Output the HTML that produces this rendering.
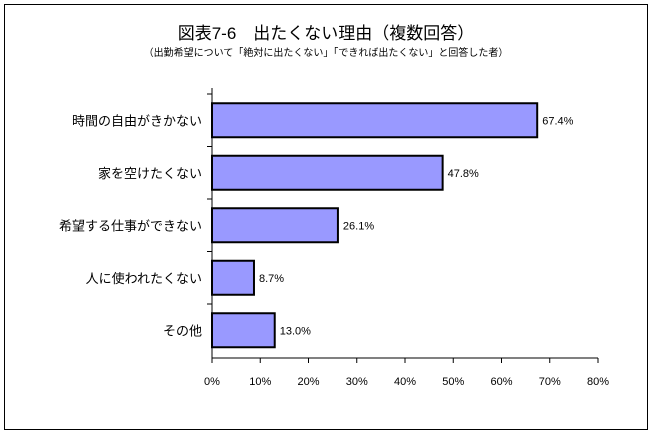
<!DOCTYPE html>
<html><head><meta charset="utf-8"><style>
body{margin:0;background:#fff;}
svg text{font-family:"Liberation Sans","Noto Sans CJK JP",sans-serif;fill:#000;}
</style></head><body>
<svg width="652" height="436">
<rect x="4.5" y="4.5" width="643" height="425" fill="#fff" stroke="#000"/>
<text x="326" y="39" font-size="17" text-anchor="middle">図表7-6　出たくない理由（複数回答）</text>
<text x="326" y="56" font-size="10" text-anchor="middle">（出勤希望について「絶対に出たくない」「できれば出たくない」と回答した者）</text>
<g id="plot"></g>
</svg>
<script>
const categories=["時間の自由がきかない","家を空けたくない","希望する仕事ができない","人に使われたくない","その他"];
const values=[67.4,47.8,26.1,8.7,13.0];
const valueLabels=["67.4%","47.8%","26.1%","8.7%","13.0%"];
const ticks=[0,10,20,30,40,50,60,70,80];
const NS="http://www.w3.org/2000/svg";
const g=document.getElementById('plot');
const x0=212,x1=598,yTop=94,yBot=358;
const xs=v=>x0+(v/80)*(x1-x0);
const band=52.5;
function mk(t,a){const e=document.createElementNS(NS,t);for(const k in a)e.setAttribute(k,a[k]);g.appendChild(e);return e;}
categories.forEach((c,i)=>{
  const yc=yTop+band*(i+0.5);
  const r=mk('rect',{x:x0,y:yc-17,width:xs(values[i])-x0,height:34,fill:'#9999ff',stroke:'#000','stroke-width':2});
  
  
  const vl=mk('text',{x:xs(values[i])+5,y:yc+4,'font-size':11});
  vl.textContent=valueLabels[i];
  
  
  const cl=mk('text',{x:x0-10,y:yc+5,'font-size':13,'text-anchor':'end'});
  cl.textContent=c;
  
  
  const tk=mk('line',{x1:x0-5,x2:x0,y1:yTop+band*i,y2:yTop+band*i,stroke:'#000'});
  
  
});
ticks.forEach(t=>{
  const x=xs(t);
  const l=mk('line',{x1:x,x2:x,y1:yBot,y2:yBot+5,stroke:'#000'});
  
  
  const tl=mk('text',{x:x,y:yBot+27,'font-size':11,'text-anchor':'middle'});
  tl.textContent=t+'%';
  
  
});
const ax=mk('line',{x1:x0,x2:x0,y1:88,y2:yBot,stroke:'#000'});


const bx=mk('line',{x1:x0,x2:x1,y1:yBot,y2:yBot,stroke:'#000'});


</script>
</body></html>
